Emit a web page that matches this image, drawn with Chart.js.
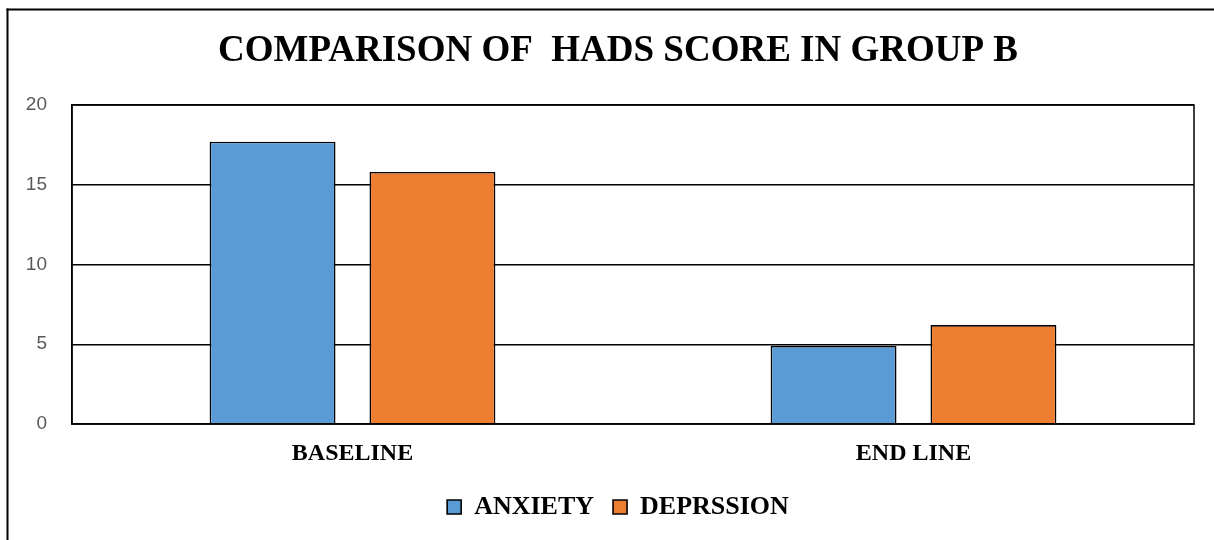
<!DOCTYPE html>
<html>
<head>
<meta charset="utf-8">
<script src="https://cdn.jsdelivr.net/npm/chart.js@4/dist/chart.umd.min.js"></script>
<style>
  html, body { margin: 0; padding: 0; background: #fff; overflow: hidden; }
  #wrap { position: relative; width: 1214px; height: 540px; }
</style>
</head>
<body>
<div id="wrap"><canvas id="c" width="1214" height="540"></canvas></div>
<script>
const categories = ["BASELINE", "END LINE"];
const anxiety = [17.7, 4.9];
const depression = [15.8, 6.2];
const seriesNames = ["ANXIETY", "DEPRSSION"];
const yTicks = [0, 5, 10, 15, 20];
const titleText = "COMPARISON OF  HADS SCORE IN GROUP B";

const framePlugin = {
  id: 'frame',
  afterLayout(chart) {
    // centre title and legend over the frame (which starts further left than the plot)
    if (chart.titleBlock) chart.titleBlock.left = 42;
    if (chart.legend) chart.legend.left = 42;
  },
  beforeDraw(chart) {
    const ctx = chart.ctx;
    ctx.save();
    ctx.fillStyle = '#fff';
    ctx.fillRect(0, 0, chart.width, chart.height);
    ctx.fillStyle = '#000';
    ctx.fillRect(6.5, 8.5, 2, chart.height);
    ctx.fillRect(6.5, 8.5, chart.width, 2);
    ctx.restore();
  },
  afterDatasetsDraw(chart) {
    const a = chart.chartArea;
    const ctx = chart.ctx;
    ctx.save();
    ctx.strokeStyle = '#000';
    ctx.lineWidth = 1.5;
    ctx.strokeRect(a.left, a.top, a.right - a.left, a.bottom - a.top);
    ctx.restore();
  }
};

new Chart(document.getElementById('c'), {
  type: 'bar',
  data: {
    labels: categories,
    datasets: [
      { label: seriesNames[0], data: anxiety, backgroundColor: '#5B9BD5', borderColor: '#000', borderWidth: 1.6,
        categoryPercentage: 0.57, barPercentage: 0.7875 },
      { label: seriesNames[1], data: depression, backgroundColor: '#ED7D31', borderColor: '#000', borderWidth: 1.6,
        categoryPercentage: 0.57, barPercentage: 0.7875 }
    ]
  },
  options: {
    responsive: false,
    animation: false,
    devicePixelRatio: 1,
    layout: { padding: { left: 0, right: 20, top: 0, bottom: 10 } },
    plugins: {
      title: {
        display: true,
        text: titleText,
        color: '#000',
        font: { family: "'Liberation Serif', 'Times New Roman', serif", size: 37, weight: 'bold', lineHeight: 1.2 },
        padding: { top: 29, bottom: 31.6 }
      },
      legend: {
        position: 'bottom',
        labels: {
          color: '#000',
          font: { family: "'Liberation Serif', 'Times New Roman', serif", size: 26, weight: 'bold' },
          boxWidth: 14, boxHeight: 14,
          padding: 19
        }
      },
      tooltip: { enabled: false }
    },
    scales: {
      x: {
        grid: { display: false, drawTicks: false },
        border: { display: true, color: '#000', width: 1.5 },
        ticks: {
          color: '#000',
          padding: 15,
          font: { family: "'Liberation Serif', 'Times New Roman', serif", size: 24, weight: 'bold' }
        },
        afterFit(scale) { scale.height = 51; }
      },
      y: {
        min: 0, max: 20,
        afterBuildTicks(scale) { scale.ticks = yTicks.map(v => ({ value: v })); },
        grid: { color: '#000', lineWidth: 1.5, drawTicks: false },
        border: { display: true, color: '#000', width: 1.5 },
        ticks: {
          color: '#595959',
          padding: 25,
          font: { family: "'Liberation Sans', Arial, sans-serif", size: 19 }
        },
        afterFit(scale) { scale.width = 72; }
      }
    }
  },
  plugins: [framePlugin]
});
</script>
</body>
</html>
